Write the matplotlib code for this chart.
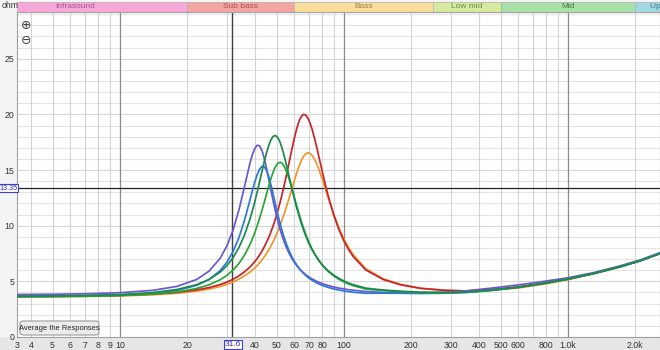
import matplotlib
matplotlib.use('Agg')
import matplotlib.pyplot as plt
from matplotlib.patches import FancyBboxPatch, Rectangle

# ---------------- data ----------------
FREQ = [3.5, 5, 7, 10, 14, 18, 22, 25, 28, 30,
        32, 34, 36, 38, 39, 40, 41, 42, 43, 44,
        45, 46, 47, 48, 49, 50, 51, 52, 53, 54,
        55.5, 57, 58.5, 60, 61.5, 63, 64.5, 66, 67.5, 69,
        70.5, 72, 74, 76, 78, 80, 82.5, 85, 90, 95,
        100, 105, 110, 125, 150, 180, 220, 280, 350, 450,
        600, 800, 1000, 1300, 1700, 2100, 2576]

PURPLE = [3.82, 3.84, 3.88, 3.98, 4.19, 4.55, 5.17, 5.92, 7.07, 8.17,
          9.61, 11.44, 13.54, 15.57, 16.38, 16.95, 17.23, 17.18, 16.78, 16.11,
          15.25, 14.32, 13.38, 12.47, 11.63, 10.88, 10.20, 9.59, 9.06, 8.59,
          7.99, 7.49, 7.07, 6.72, 6.43, 6.17, 5.95, 5.77, 5.60, 5.46,
          5.33, 5.22, 5.09, 4.98, 4.88, 4.80, 4.70, 4.63, 4.49, 4.39,
          4.32, 4.25, 4.20, 4.09, 4.00, 3.96, 3.95, 4.02, 4.14, 4.38,
          4.68, 5.03, 5.32, 5.78, 6.38, 6.92, 7.58]
BLUE = [3.64, 3.65, 3.69, 3.76, 3.92, 4.19, 4.64, 5.17, 5.96, 6.71,
        7.69, 8.95, 10.51, 12.27, 13.14, 13.94, 14.60, 15.08, 15.32, 15.31,
        15.02, 14.50, 13.82, 13.06, 12.27, 11.50, 10.78, 10.12, 9.52, 8.98,
        8.29, 7.71, 7.22, 6.81, 6.47, 6.18, 5.93, 5.71, 5.53, 5.37,
        5.23, 5.11, 4.96, 4.84, 4.73, 4.64, 4.54, 4.46, 4.32, 4.22,
        4.14, 4.07, 4.02, 3.93, 3.94, 3.93, 3.91, 3.93, 4.00, 4.17,
        4.45, 4.85, 5.20, 5.70, 6.30, 6.85, 7.50]
DARKGREEN = [3.67, 3.69, 3.73, 3.81, 3.99, 4.27, 4.70, 5.17, 5.82, 6.41,
             7.13, 8.05, 9.18, 10.56, 11.34, 12.17, 13.05, 13.94, 14.83, 15.69,
             16.46, 17.12, 17.63, 17.96, 18.10, 18.04, 17.81, 17.43, 16.92, 16.34,
             15.37, 14.36, 13.38, 12.47, 11.63, 10.88, 10.21, 9.62, 9.09, 8.63,
             8.22, 7.86, 7.44, 7.07, 6.76, 6.49, 6.20, 5.95, 5.56, 5.26,
             5.03, 4.84, 4.70, 4.39, 4.22, 4.11, 4.03, 4.00, 4.03, 4.20,
             4.48, 4.86, 5.20, 5.70, 6.30, 6.85, 7.50]
GREEN = [3.61, 3.63, 3.66, 3.72, 3.85, 4.05, 4.36, 4.69, 5.14, 5.53,
         6.02, 6.62, 7.37, 8.28, 8.81, 9.38, 10.00, 10.66, 11.35, 12.06,
         12.77, 13.46, 14.11, 14.67, 15.13, 15.46, 15.65, 15.70, 15.60, 15.37,
         14.84, 14.15, 13.38, 12.58, 11.80, 11.06, 10.39, 9.78, 9.23, 8.74,
         8.31, 7.92, 7.47, 7.09, 6.76, 6.47, 6.16, 5.90, 5.49, 5.18,
         4.95, 4.76, 4.61, 4.31, 4.17, 4.06, 3.99, 3.96, 4.02, 4.19,
         4.47, 4.86, 5.20, 5.70, 6.30, 6.85, 7.50]
RED = [3.66, 3.67, 3.70, 3.75, 3.86, 4.01, 4.23, 4.44, 4.71, 4.93,
       5.19, 5.50, 5.86, 6.28, 6.52, 6.78, 7.06, 7.37, 7.70, 8.07,
       8.46, 8.89, 9.34, 9.84, 10.37, 10.94, 11.55, 12.19, 12.86, 13.56,
       14.65, 15.76, 16.84, 17.84, 18.71, 19.38, 19.81, 20.00, 19.93, 19.67,
       19.25, 18.69, 17.81, 16.84, 15.84, 14.87, 13.73, 12.70, 10.97, 9.64,
       8.63, 7.84, 7.23, 6.03, 5.16, 4.68, 4.37, 4.20, 4.14, 4.26,
       4.51, 4.88, 5.22, 5.71, 6.30, 6.85, 7.50]
ORANGE = [3.61, 3.62, 3.65, 3.69, 3.79, 3.93, 4.12, 4.31, 4.54, 4.73,
          4.94, 5.20, 5.49, 5.82, 6.01, 6.21, 6.43, 6.66, 6.91, 7.18,
          7.47, 7.78, 8.11, 8.46, 8.83, 9.23, 9.65, 10.09, 10.55, 11.02,
          11.77, 12.53, 13.29, 14.04, 14.73, 15.34, 15.85, 16.23, 16.46, 16.55,
          16.50, 16.33, 15.95, 15.43, 14.83, 14.17, 13.34, 12.51, 11.03, 9.80,
          8.81, 8.02, 7.39, 6.14, 5.22, 4.71, 4.38, 4.19, 4.14, 4.22,
          4.40, 4.78, 5.15, 5.68, 6.28, 6.84, 7.50]

SERIES = [ORANGE, RED, PURPLE, BLUE, GREEN, DARKGREEN]
COLORS = ['#f0952c', '#c8232b', '#6a58cf', '#2f78d6', '#27a535', '#1b8a4f']

BAND_NAMES = ['Infrasound', 'Sub bass', 'Bass', 'Low mid', 'Mid', 'Upper mid']
BAND_EDGES = [2, 20, 60, 250, 500, 2000, 4000]
BAND_COLORS = ['#f7a8d8', '#f5a3a3', '#f9dd9b', '#d7eba0', '#a8e0a8', '#a3d8e2']
BAND_TEXT = ['#b0508e', '#b05050', '#a08040', '#6c8a3c', '#3f7a3f', '#3c7a88']

XTICKS = [4, 5, 6, 7, 8, 9, 20, 40, 50, 60, 70, 80, 200, 300, 400, 500, 600, 800, 2000]
XLABELS = ['4', '5', '6', '7', '8', '9', '20', '40', '50', '60', '70', '80',
           '200', '300', '400', '500', '600', '800', '2.0k']
DECADES = [10, 100, 1000]
DECADE_LABELS = ['10', '100', '1.0k']
XGRID_MINOR = [4, 5, 6, 7, 8, 9, 20, 30, 40, 50, 60, 70, 80, 90,
               200, 300, 400, 500, 600, 700, 800, 900, 2000]
YTICKS = [0, 5, 10, 15, 20, 25]
XMIN, XMAX = 3.47, 2576
YMIN, YMAX = 0, 29.2
CURSOR_X = 31.6
CURSOR_Y = 13.35

# ---------------- figure ----------------
W, H = 660, 350
fig = plt.figure(figsize=(W / 100, H / 100), dpi=100, facecolor='#f4f4f4')
plt.rcParams['font.family'] = ['Liberation Sans', 'DejaVu Sans']

def fx(px):
    return px / W

def fy(py):
    return 1 - py / H

# bottom label strip (behind the axes)
fig.patches.append(Rectangle((0, 0), 1, fy(337), transform=fig.transFigure,
                             facecolor='#e6e6e6', edgecolor='none', zorder=-1))

left, right, top, bottom = 17, 660, 12, 337
ax = fig.add_axes([fx(left), fy(bottom), fx(right - left), (bottom - top) / H])
ax.set_facecolor('white')
ax.set_xscale('log')
ax.set_xlim(XMIN, XMAX)
ax.set_ylim(YMIN, YMAX)

# grid
for v in range(1, 30):
    ax.axhline(v, color='#e4e4e4' if v % 5 else '#d6d6d6', lw=0.8, zorder=0.8)
for g in XGRID_MINOR:
    ax.axvline(g, color='#d4d4d4', lw=0.8, zorder=1)
for g in DECADES:
    ax.axvline(g, color='#8c8c8c', lw=0.9, zorder=1.2)

# cursors
ax.axvline(CURSOR_X, color='#404040', lw=1.0, zorder=2)
ax.axhline(CURSOR_Y, color='#202020', lw=0.9, zorder=2)

for s, c in zip(SERIES, COLORS):
    ax.plot(FREQ, s, color=c, lw=1.25, zorder=3, solid_joinstyle='round',
            solid_capstyle='round')

# ticks
ax.minorticks_off()
ax.set_xticks(XTICKS + DECADES + [XMIN])
ax.set_xticklabels(XLABELS + DECADE_LABELS + ['3'])
ax.set_yticks(YTICKS)
ax.set_yticklabels([str(v) for v in YTICKS])
ax.tick_params(axis='both', length=0, labelsize=6.3, colors='#333333')
ax.tick_params(axis='x', pad=3)
ax.tick_params(axis='y', pad=2)
for sp in ax.spines.values():
    sp.set_color('#a0a0a0')
    sp.set_linewidth(0.8)

# cursor value boxes
fig.text(fx(233), fy(344), '31.6', ha='center', va='center', fontsize=6.0,
         color='#3030c0',
         bbox=dict(boxstyle='square,pad=0.12', fc='white', ec='#4040d0', lw=0.8))
fig.text(fx(8.6), fy(188), '13.35', ha='center', va='center', fontsize=5.2,
         color='#3030c0',
         bbox=dict(boxstyle='square,pad=0.1', fc='white', ec='#4040d0', lw=0.8))

fig.text(fx(2), fy(6), 'ohm', ha='left', va='center', fontsize=6.3, color='#333333')

# zoom icons
ax.text(0.014, 0.957, '\u2295', transform=ax.transAxes, ha='center', va='center',
        fontsize=9, color='#404040', family='DejaVu Sans')
ax.text(0.014, 0.913, '\u2296', transform=ax.transAxes, ha='center', va='center',
        fontsize=9, color='#404040', family='DejaVu Sans')

# button
btn = FancyBboxPatch((fx(20), fy(335)), fx(79), (335 - 321) / H,
                     boxstyle='round,pad=0,rounding_size=0.006',
                     transform=fig.transFigure, facecolor='#ececec',
                     edgecolor='#9a9a9a', lw=0.8, zorder=5)
fig.patches.append(btn)
fig.text(fx(59.5), fy(328), 'Average the Responses', ha='center', va='center',
         fontsize=5.4, color='#222222', zorder=6)

# frequency band strip
bax = fig.add_axes([fx(left), fy(12), fx(right - left), 10 / H])
bax.set_xscale('log')
bax.set_xlim(XMIN, XMAX)
bax.set_ylim(0, 1)
bax.axis('off')
for i, name in enumerate(BAND_NAMES):
    lo, hi = BAND_EDGES[i], BAND_EDGES[i + 1]
    bax.axvspan(lo, hi, color=BAND_COLORS[i], lw=0)
    bax.axvline(lo, color='#b0b0b0', lw=0.5)
    mid = (lo * hi) ** 0.5
    bax.text(mid, 0.5, name, ha='center', va='center', fontsize=6.0,
             color=BAND_TEXT[i], clip_on=True)
bax.axhline(1, color='#b8b8b8', lw=0.6)

fig.savefig('out.png', dpi=100, facecolor=fig.get_facecolor())
